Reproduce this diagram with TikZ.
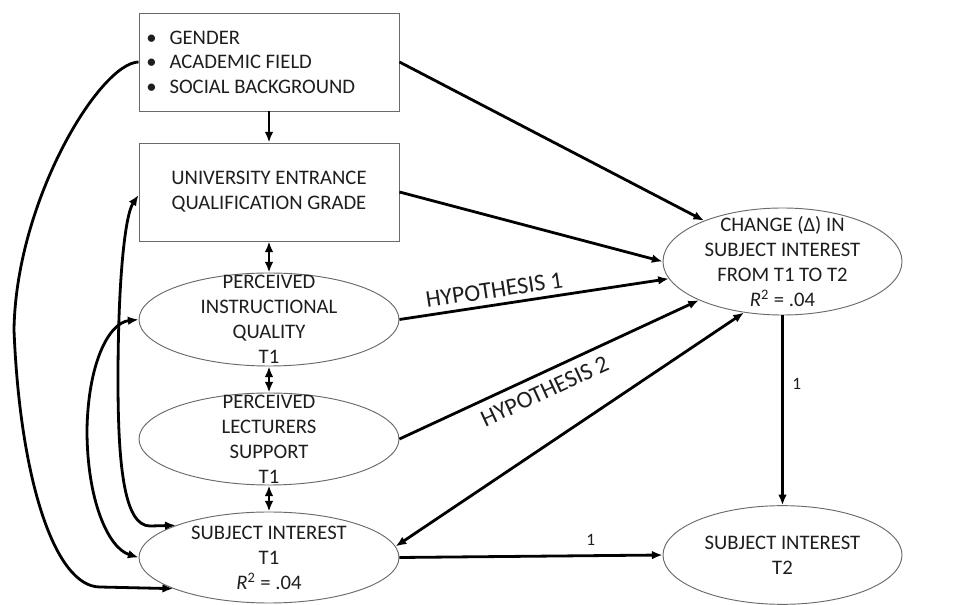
\documentclass[tikz,border=0pt]{standalone}
\usepackage{fontspec}
\setmainfont{Carlito}
\usetikzlibrary{shapes.geometric,arrows.meta}
\definecolor{bordergray}{HTML}{6A6A6A}
\definecolor{inkc}{HTML}{1E1E1E}
\begin{document}
\begin{tikzpicture}[x=0.75pt,y=-0.75pt,
  tipc/.tip={Latex[length=8pt,width=6.5pt]},
  conn/.style={line width=2.1pt,-tipc},
  biconn/.style={line width=2.1pt,tipc-tipc},
  rbox/.style={draw=bordergray,line width=0.7pt,rectangle,minimum width=195pt,minimum height=73.5pt,inner sep=0pt},
  oval/.style={draw=bordergray,line width=0.7pt,ellipse,inner sep=0pt},
  txt/.style={align=center,font=\fontsize{15.5}{18.75}\selectfont,text=inkc,inner sep=0pt},
  hyp/.style={font=\fontsize{18}{21}\selectfont,text=inkc,sloped},
  one/.style={font=\fontsize{13}{15}\selectfont,text=inkc}
  ]
\useasboundingbox (0,0) rectangle (954,605);
\fill[white] (0,0) rectangle (954,605);

% nodes
\node[rbox] (B1) at (269,62) {};
\node[rbox] (B2) at (269,192) {};
\node[oval,minimum width=195pt,minimum height=69.75pt] (IQ) at (269,319.5) {};
\node[oval,minimum width=195pt,minimum height=69pt] (LS) at (269,439) {};
\node[oval,minimum width=195pt,minimum height=68.25pt] (SI1) at (269,557.5) {};
\node[oval,minimum width=179.25pt,minimum height=80.25pt] (CH) at (782.5,261.5) {};
\node[oval,minimum width=179.25pt,minimum height=74pt] (SI2) at (782.5,555) {};

% texts
\node[txt,align=left,anchor=west,font=\fontsize{15.5}{18.4}\selectfont] (B1t) at (146,62)
  {\makebox[17.5pt][l]{•}GENDER\\\makebox[17.5pt][l]{•}ACADEMIC FIELD\\\makebox[17.5pt][l]{•}SOCIAL BACKGROUND};
\node[txt] (B2t) at (B2) {UNIVERSITY ENTRANCE\\QUALIFICATION GRADE};
\node[txt] (IQt) at (IQ) {PERCEIVED\\INSTRUCTIONAL\\QUALITY\\T1};
\node[txt] (LSt) at (LS) {PERCEIVED\\LECTURERS\\SUPPORT\\T1};
\node[txt] (SI1t) at (SI1) {SUBJECT INTEREST\\T1\\\textit{R}\textsuperscript{2} = .04};
\node[txt] (CHt) at (CH) {CHANGE (Δ) IN\\SUBJECT INTEREST\\FROM T1 TO T2\\\textit{R}\textsuperscript{2} = .04};
\node[txt] (SI2t) at (SI2) {SUBJECT INTEREST\\T2};

% vertical connectors
\draw[conn] (B1) -- (B2);
\draw[biconn] (B2) -- (IQ);
\draw[biconn] (IQ) -- (LS);
\draw[biconn] (LS) -- (SI1);

% to change
\draw[conn] (B1.east) -- (CH);
\draw[conn] (B2.east) -- (CH.west);
\draw[conn] (IQ.east) -- node[hyp,pos=0.36,above=1pt] {HYPOTHESIS 1} (CH);
\draw[conn] (LS.east) -- node[hyp,pos=0.46,below=3pt] {HYPOTHESIS 2} (CH);
\draw[biconn] (SI1.5) -- (CH.-127);

% to T2
\draw[conn] (SI1.east) -- node[one,pos=0.727,above=3pt] {1} (SI2.west);
\draw[conn] (CH.south) -- node[one,pos=0.36,right=3pt] {1} (SI2.north);

% left curves
\draw[conn] (B1.west) .. controls (100,63) and (16,200) .. (14,330)
  .. controls (20,480) and (55,587) .. (100,587) -- (SI1.-162);
\draw[biconn] ([yshift=-2.25pt]B2.west) .. controls (125,215) and (118,280) .. (118,380)
  .. controls (118,470) and (125,526) .. (150,526) -- (SI1.161);
\draw[biconn] (IQ.west) .. controls (108,323) and (88,365) .. (87,430)
  .. controls (87,500) and (108,548) .. (SI1.west);
\end{tikzpicture}
\end{document}
